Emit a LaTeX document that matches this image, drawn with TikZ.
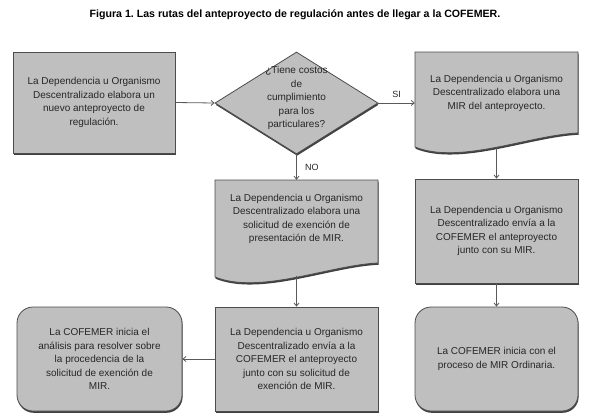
\documentclass[tikz,border=0pt]{standalone}
\usepackage{fontspec}
\setmainfont{Liberation Sans}
\usetikzlibrary{shapes.geometric,shadows,arrows.meta}
\frenchspacing

\begin{document}
\begin{tikzpicture}[x=1pt, y=-1pt,
	sombra/.style={drop shadow={shadow xshift=0.6pt, shadow yshift=-1.8pt, fill=black!75, opacity=1}},
	caja/.style={draw=black!70, fill=black!25, line width=0.8pt, sombra,
		minimum width=163pt, minimum height=104pt, inner sep=0pt},
	redonda/.style={caja, rounded corners=16pt},
	hoja/.style={minimum width=163pt, minimum height=95.5pt, inner sep=0pt},
	texto/.style={align=center, inner sep=0pt, text=black!85,
		font=\fontsize{10}{13.5}\selectfont},
	flecha/.style={draw=black!65, line width=0.8pt, -{Straight Barb[length=3pt, width=5pt]}},
	etiqueta/.style={font=\fontsize{9}{11}\selectfont, text=black!85}]
	\useasboundingbox (0,0) rectangle (591,418);
	\node[font=\bfseries\fontsize{10.6}{12}\selectfont] (titulo) at (295,15)
		{Figura 1. Las rutas del anteproyecto de regulación antes de llegar a la COFEMER.};
	% documentos con el borde ondulado
	\filldraw[draw=black!70, fill=black!25, line width=0.8pt, sombra]
		(415,52) -- (578,52) -- (578,133) .. controls (530,135) and (460,165) .. (415,147) -- cycle;
	\filldraw[draw=black!70, fill=black!25, line width=0.8pt, sombra]
		(215,180) -- (378,180) -- (378,263) .. controls (330,265) and (260,295) .. (215,277) -- cycle;
	\node[hoja] (mir) at (496.5,99.75) {};
	\node[texto] at ([yshift=6.75pt]mir.center)
		{La Dependencia u Organismo\\Descentralizado elabora una\\MIR del anteproyecto.};
	\node[hoja] (exencion) at (296.5,227.75) {};
	\node[texto] at ([yshift=8.75pt]exencion.center)
		{La Dependencia u Organismo\\Descentralizado elabora una\\solicitud de exención de\\presentación de MIR.};

	\node[caja, texto, minimum width=162pt, minimum height=101pt] (nuevo) at (94,102.5)
		{La Dependencia u Organismo\\Descentralizado elabora un\\nuevo anteproyecto de\\regulación.};
	\node[caja, diamond, minimum width=163pt, minimum height=102pt] (costos) at (296.5,103) {};
	\node[texto] at ([yshift=5pt]costos.center)
		{¿Tiene costos\\de\\cumplimiento\\para los\\particulares?};
	\node[caja, texto] (envio) at (496.5,231)
		{La Dependencia u Organismo\\Descentralizado envía a la\\COFEMER el anteproyecto\\junto con su MIR.};
	\node[redonda, texto, minimum width=165pt] (analisis) at (99.5,359)
		{La COFEMER inicia el\\análisis para resolver sobre\\la procedencia de la\\solicitud de exención de\\MIR.};
	\node[caja, texto] (solicitud) at (296.5,359)
		{La Dependencia u Organismo\\Descentralizado envía a la\\COFEMER el anteproyecto\\junto con su solicitud de\\exención de MIR.};
	\node[redonda, texto] (ordinaria) at (496.5,359)
		{La COFEMER inicia con el\\proceso de MIR Ordinaria.};

	\draw[flecha] (nuevo.east) -- (costos.west);
	\draw[flecha] (costos.east) -- (costos.east -| mir.west)
		node[etiqueta, midway, above=2pt] {SI};
	\draw[flecha] (costos.south) -- (exencion.north)
		node[etiqueta, midway, right=5pt] {NO};
	\draw[flecha] (mir.south) -- (envio.north);
	\draw[flecha] (exencion.south) -- (solicitud.north);
	\draw[flecha] (envio.south) -- (ordinaria.north);
	\draw[flecha] (solicitud.west) -- (analisis.east);
\end{tikzpicture}
\end{document}
